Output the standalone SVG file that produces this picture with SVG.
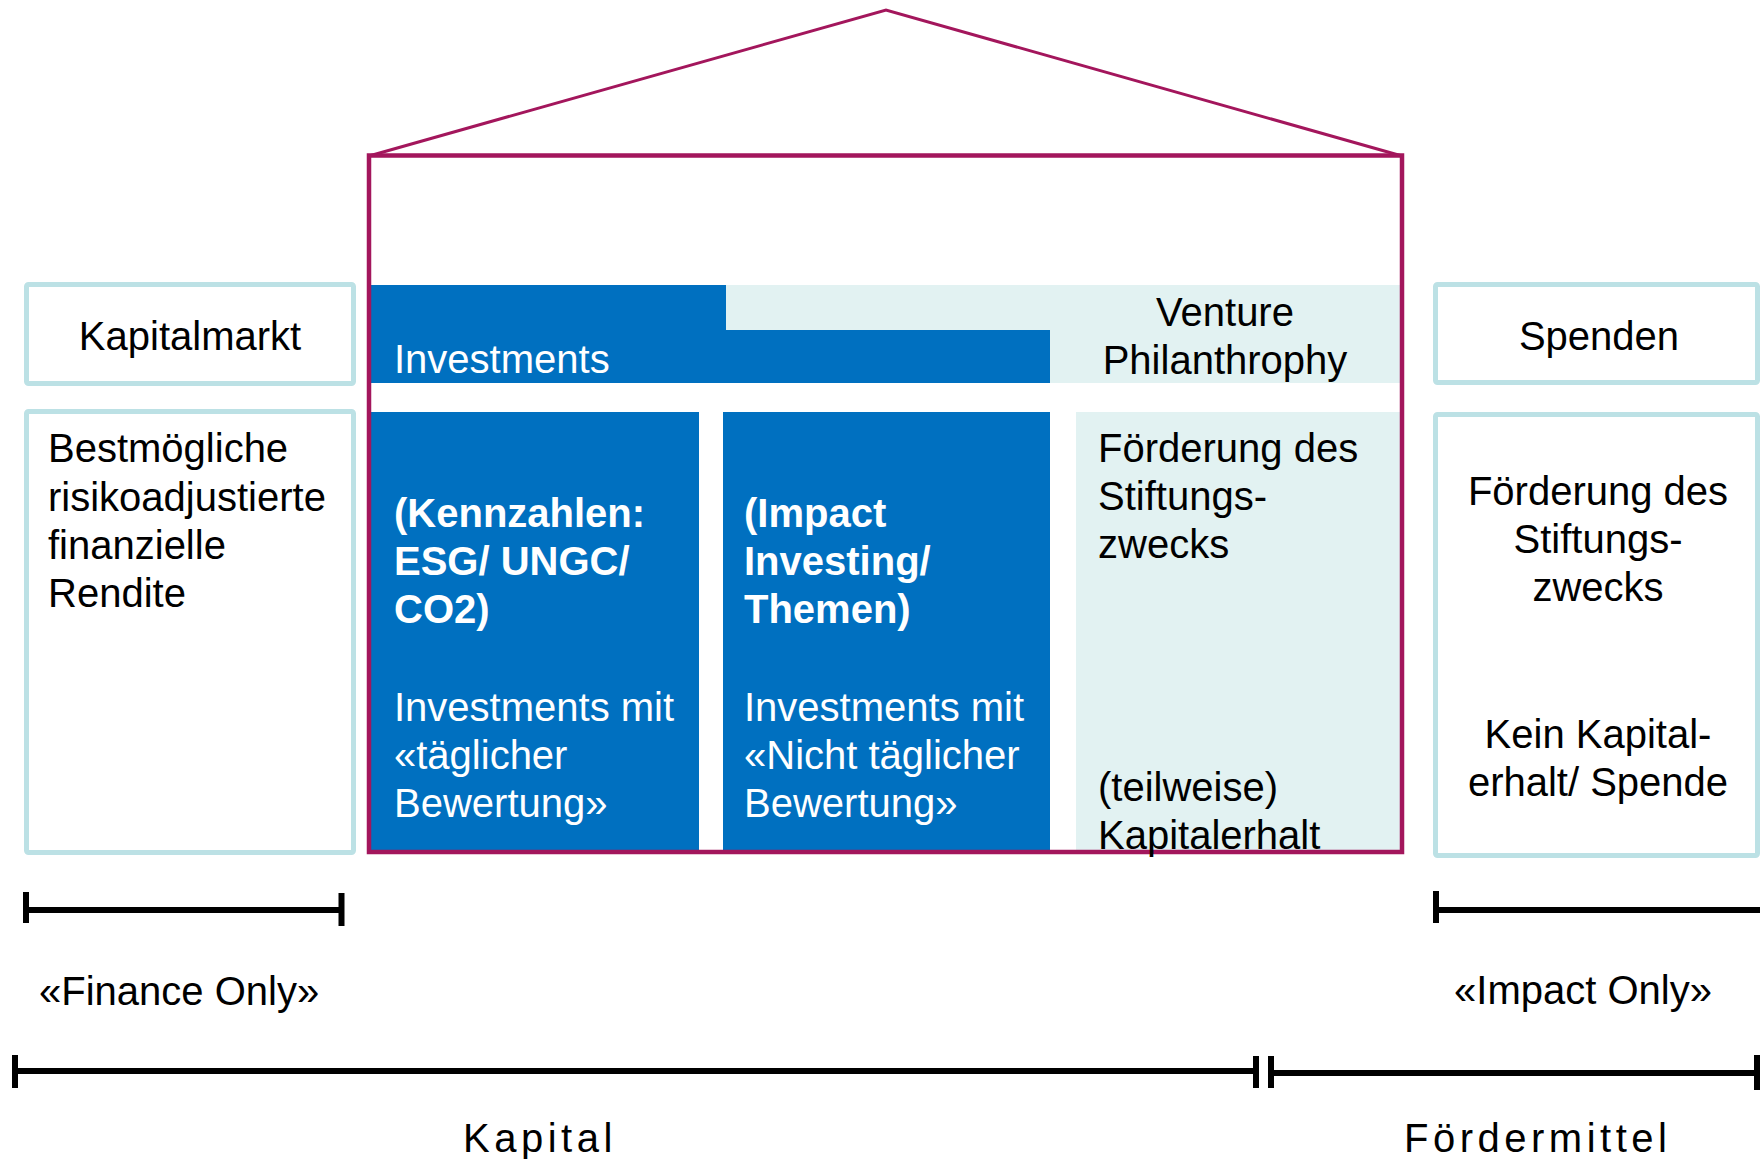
<svg xmlns="http://www.w3.org/2000/svg" width="1760" height="1159" viewBox="0 0 1760 1159">
<style>
  text { font-family: "Liberation Sans", Arial, sans-serif; font-size: 40px; fill: #000; }
  .w { fill: #fff; }
  .b { font-weight: bold; }
  .c { text-anchor: middle; }
  .sp { letter-spacing: 4.5px; }
  .box { fill: #fff; stroke: #BCE1E5; stroke-width: 5; }
  .blue { fill: #0070C0; }
  .teal { fill: #E2F2F2; }
  .frame { fill: none; stroke: #A3165C; stroke-width: 4.5; }
  .roof { fill: none; stroke: #A3165C; stroke-width: 3; stroke-linejoin: miter; }
  .bar { stroke: #000; stroke-width: 6; fill: none; }
</style>

<!-- left side -->
<g id="kapitalmarkt">
  <rect class="box" x="26.5" y="284.5" width="327" height="99" rx="2"/>
  <text class="c" x="190" y="350">Kapitalmarkt</text>
</g>
<g id="rendite">
  <rect class="box" x="26.5" y="411.5" width="327" height="441" rx="2"/>
  <text x="48" y="462">Bestmögliche</text>
  <text x="48" y="511">risikoadjustierte</text>
  <text x="48" y="559">finanzielle</text>
  <text x="48" y="607">Rendite</text>
</g>

<!-- house -->
<g id="house-fills">
  <rect class="teal" x="726" y="285" width="674" height="98"/>
  <path class="blue" d="M371 285 H726 V330 H1050 V383 H371 Z"/>
  <rect class="blue" x="371" y="412" width="328" height="440"/>
  <rect class="blue" x="723" y="412" width="327" height="440"/>
  <rect class="teal" x="1076" y="412" width="324" height="440"/>
</g>
<g id="house">
  <polyline class="roof" points="369,156 886,10 1402,156"/>
  <rect class="frame" x="369" y="155.5" width="1033" height="696.5"/>
</g>
<g id="investments">
  <text class="w" x="394" y="373">Investments</text>
</g>
<g id="venture-philanthropy">
  <text class="c" x="1225" y="326">Venture</text>
  <text class="c" x="1225" y="374">Philanthrophy</text>
</g>
<g id="col-kennzahlen">
  <text class="w b" x="394" y="527">(Kennzahlen:</text>
  <text class="w b" x="394" y="575">ESG/ UNGC/</text>
  <text class="w b" x="394" y="623">CO2)</text>
  <text class="w" x="394" y="721">Investments mit</text>
  <text class="w" x="394" y="769">«täglicher</text>
  <text class="w" x="394" y="817">Bewertung»</text>
</g>
<g id="col-impact">
  <text class="w b" x="744" y="527">(Impact</text>
  <text class="w b" x="744" y="575">Investing/</text>
  <text class="w b" x="744" y="623">Themen)</text>
  <text class="w" x="744" y="721">Investments mit</text>
  <text class="w" x="744" y="769">«Nicht täglicher</text>
  <text class="w" x="744" y="817">Bewertung»</text>
</g>
<g id="col-venture">
  <text x="1098" y="462">Förderung des</text>
  <text x="1098" y="510">Stiftungs-</text>
  <text x="1098" y="558">zwecks</text>
  <text x="1098" y="801">(teilweise)</text>
  <text x="1098" y="849">Kapitalerhalt</text>
</g>

<!-- right side -->
<g id="spenden">
  <rect class="box" x="1435.5" y="284.5" width="322" height="98" rx="2"/>
  <text class="c" x="1599" y="350">Spenden</text>
</g>
<g id="foerderung">
  <rect class="box" x="1435.5" y="414.5" width="322" height="441" rx="2"/>
  <text class="c" x="1598" y="505">Förderung des</text>
  <text class="c" x="1598" y="553">Stiftungs-</text>
  <text class="c" x="1598" y="601">zwecks</text>
  <text class="c" x="1598" y="748">Kein Kapital-</text>
  <text class="c" x="1598" y="796">erhalt/ Spende</text>
</g>

<!-- scale bars -->
<g id="connectors">
  <path class="bar" d="M26 892 V923 M26 910 H341.5 M341.5 893 V926"/>
  <path class="bar" d="M1436 891 V923 M1436 910 H1760"/>
  <path class="bar" d="M15 1055 V1088 M15 1071 H1256 M1256 1056 V1088"/>
  <path class="bar" d="M1271 1056 V1088 M1271 1073 H1757 M1757 1055 V1090"/>
</g>
<g id="labels">
  <text x="39" y="1005">«Finance Only»</text>
  <text class="c" x="1583" y="1004">«Impact Only»</text>
  <text class="sp" x="463" y="1152">Kapital</text>
  <text class="sp" x="1404" y="1152">Fördermittel</text>
</g>
</svg>
